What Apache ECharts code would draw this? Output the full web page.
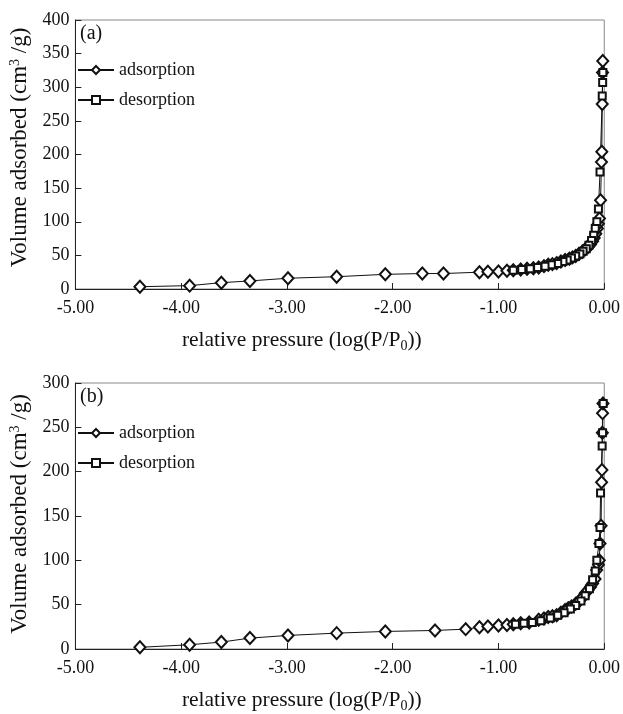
<!DOCTYPE html>
<html>
<head>
<meta charset="utf-8">
<script src="https://cdn.jsdelivr.net/npm/echarts@6/dist/echarts.min.js"></script>
<style>html,body{margin:0;padding:0;background:#fff}#c{width:623px;height:714px}</style>
</head>
<body>
<div id="c"></div>
<script>
// ---- data ----
const xTickValues = [-5, -4, -3, -2, -1, 0];
const yTicksA = [0, 50, 100, 150, 200, 250, 300, 350, 400];
const yTicksB = [0, 50, 100, 150, 200, 250, 300];
const seriesNames = ['adsorption', 'desorption'];
const panelLabels = ['(a)', '(b)'];

// Panel (a)
const adsA_x = [-4.39, -3.92, -3.62, -3.35, -2.99, -2.53, -2.07, -1.72, -1.52, -1.18, -1.10, -1.00, -0.92, -0.86, -0.79, -0.73, -0.67, -0.62, -0.57, -0.53, -0.49, -0.45, -0.41, -0.37, -0.33, -0.30, -0.27, -0.24, -0.21, -0.18, -0.155, -0.13, -0.11, -0.095, -0.08, -0.065, -0.055, -0.045, -0.035, -0.026, -0.023, -0.019, -0.016, -0.014];
const adsA_y = [3.4, 5, 9.4, 12, 16, 18.3, 21.8, 23, 23, 25, 25.5, 26, 27, 28, 29, 30, 31, 32, 34, 36, 37, 38.5, 41, 43, 45, 47, 49, 52, 55, 59, 62, 66, 71, 76, 82, 90, 97, 105, 132, 189, 204, 275, 322, 339];
const desA_x = [-0.013, -0.015, -0.019, -0.04, -0.055, -0.07, -0.085, -0.10, -0.12, -0.145, -0.17, -0.20, -0.23, -0.27, -0.31, -0.35, -0.39, -0.44, -0.50, -0.56, -0.63, -0.70, -0.78, -0.86];
const desA_y = [322, 307, 287, 174, 119, 100, 90, 80, 72, 65, 60, 56, 52, 49, 46, 43, 41, 38, 36, 34, 32, 30, 29, 28];

// Panel (b)
const adsB_x = [-4.39, -3.92, -3.62, -3.35, -2.99, -2.53, -2.07, -1.60, -1.31, -1.18, -1.10, -1.00, -0.92, -0.86, -0.79, -0.71, -0.62, -0.57, -0.53, -0.49, -0.45, -0.41, -0.37, -0.34, -0.31, -0.27, -0.23, -0.20, -0.18, -0.155, -0.13, -0.11, -0.087, -0.072, -0.055, -0.047, -0.04, -0.03, -0.025, -0.022, -0.018, -0.016, -0.012];
const adsB_y = [1.9, 4.8, 7.8, 12.3, 15.3, 17.9, 19.8, 20.9, 22.4, 24.6, 25.4, 26.5, 27, 28, 29, 30, 33, 34.5, 36, 37, 38, 41, 44, 46, 48, 51, 55, 59, 63, 66, 70, 74, 79, 89, 95, 100, 119, 139, 188, 202, 244, 266, 277];
const desB_x = [-0.01, -0.016, -0.02, -0.035, -0.04, -0.05, -0.07, -0.085, -0.11, -0.14, -0.18, -0.22, -0.27, -0.32, -0.38, -0.44, -0.51, -0.60, -0.68, -0.76, -0.84];
const desB_y = [277, 244, 229, 176, 137, 119, 100, 88, 78, 68, 60, 54, 49, 45, 41, 38, 35, 32, 30, 29, 28];

// ---- chart ----
const FONT = "'Liberation Serif', 'Times New Roman', serif";
const INK = '#111';
const zip = (xs, ys) => xs.map((x, i) => [x, ys[i]]);

const grids = [
  { left: 74, top: 20, right: 17, height: 269 },
  { left: 74, top: 383, right: 17, height: 268 }
];

function xAxis(gi) {
  return {
    type: 'value', gridIndex: gi, min: xTickValues[0], max: xTickValues[xTickValues.length - 1], interval: 1,
    name: '{t|relative pressure (log(P/P}{s|0}{t|))}',
    nameLocation: 'middle', nameGap: 38,
    nameTextStyle: { padding: [0, 76, 0, 0], rich: {
      t: { fontFamily: FONT, fontSize: 21.5, color: INK },
      s: { fontFamily: FONT, fontSize: 14, color: INK, padding: [12, 0, 0, 0] }
    } },
    axisLine: { show: true, onZero: false, lineStyle: { color: '#222', width: 1 } },
    axisTick: { show: true, inside: true, length: 6, lineStyle: { color: '#222' } },
    axisLabel: { fontFamily: FONT, fontSize: 18, color: INK, margin: 10, formatter: v => v.toFixed(2) },
    splitLine: { show: false }
  };
}
function yAxis(gi, ticks, shift) {
  return {
    type: 'value', gridIndex: gi, min: ticks[0], max: ticks[ticks.length - 1], interval: 50,
    name: '{t|Volume adsorbed (cm}{p|3}{t| /g)}',
    nameLocation: 'middle', nameGap: 43,
    nameTextStyle: { padding: [0, 0, 0, shift], rich: {
      t: { fontFamily: FONT, fontSize: 23, color: INK },
      p: { fontFamily: FONT, fontSize: 14, color: INK, padding: [0, 0, 10, 0] }
    } },
    axisLine: { show: true, onZero: false, lineStyle: { color: '#222', width: 1 } },
    axisTick: { show: true, inside: true, length: 6, lineStyle: { color: '#222' } },
    axisLabel: { fontFamily: FONT, fontSize: 18, color: INK, margin: 6 },
    splitLine: { show: false }
  };
}
function series(gi, name, xs, ys, symbol, size) {
  return {
    name, type: 'line', xAxisIndex: gi, yAxisIndex: gi,
    data: zip(xs, ys),
    symbol, symbolSize: size, showAllSymbol: true,
    lineStyle: { color: INK, width: 1 },
    itemStyle: { color: INK, borderWidth: 1.2 },
    animation: false
  };
}
function legend(top) {
  return {
    data: seriesNames, orient: 'vertical', left: 77, top, padding: 0,
    itemWidth: 36, itemHeight: 10, itemGap: 12,
    textStyle: { fontFamily: FONT, fontSize: 18, color: INK },
    selectedMode: false
  };
}

const chart = echarts.init(document.getElementById('c'), null, { renderer: 'canvas' });
chart.setOption({
  animation: false,
  backgroundColor: '#fff',
  grid: grids.map(g => Object.assign({ show: true, borderColor: '#888', borderWidth: 1, backgroundColor: 'transparent' }, g)),
  xAxis: [xAxis(0), xAxis(1)],
  yAxis: [yAxis(0, yTicksA, 14), yAxis(1, yTicksB, 4)],
  legend: [legend(61), legend(424)],
  series: [
    series(0, seriesNames[0], adsA_x, adsA_y, 'emptyDiamond', [11, 12]),
    series(0, seriesNames[1], desA_x, desA_y, 'emptyRect', 7),
    series(1, seriesNames[0], adsB_x, adsB_y, 'emptyDiamond', [11, 12]),
    series(1, seriesNames[1], desB_x, desB_y, 'emptyRect', 7)
  ],
  graphic: [
    { type: 'text', left: 80, top: 24, style: { text: panelLabels[0], font: '20px ' + FONT, fill: INK } },
    { type: 'text', left: 80, top: 387, style: { text: panelLabels[1], font: '20px ' + FONT, fill: INK } }
  ]
});
</script>
</body>
</html>
